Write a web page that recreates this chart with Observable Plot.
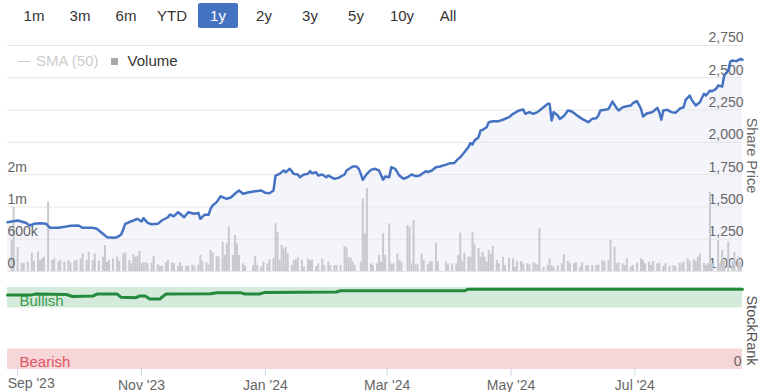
<!DOCTYPE html>
<html><head><meta charset="utf-8">
<script src="https://cdn.jsdelivr.net/npm/d3@7"></script>
<script src="https://cdn.jsdelivr.net/npm/@observablehq/plot@0.6"></script>
<style>
body{margin:0;background:#fff;font-family:"Liberation Sans",Arial,Helvetica,sans-serif;}
#chart{position:relative;width:761px;height:392px;overflow:hidden;}
#chart svg{position:absolute;left:0;top:0;background:transparent;}
.btn{position:absolute;top:3px;width:40px;height:25px;line-height:25px;font-size:15px;color:#333;text-align:center;border-radius:2px;}
.btn.on{background:#4672c2;color:#fff;}
.legend{position:absolute;top:51px;left:18px;font-size:15px;line-height:18px;white-space:nowrap;}
.legend span{display:inline-block;vertical-align:middle;}
</style>
</head><body>
<div id="chart"></div>
<script>
// ---- data ----
const rangeButtons = ["1m","3m","6m","YTD","1y","2y","3y","5y","10y","All"];
const activeButton = "1y";
const legendItems = ["SMA (50)","Volume"];
const xDomain = ["2023-08-27","2024-08-23"];
const xTicks = ["2023-09-01","2023-11-01","2024-01-01","2024-03-01","2024-05-01","2024-07-01"];
const priceTicks = [1000,1250,1500,1750,2000,2250,2500,2750];
const volumeTicks = [0,600000,1200000,1800000];
const volumeMax = 4200000;
const rankTicks = [0];
const bandLabels = ["Bullish","Bearish"];
const bandLow = [75,0];
const bandHigh = [100,25];

const priceDates = ["2023-08-27","2023-09-01","2023-09-05","2023-09-07","2023-09-09","2023-09-12","2023-09-15","2023-09-17","2023-09-21","2023-09-25","2023-09-27","2023-10-01","2023-10-03","2023-10-08","2023-10-10","2023-10-13","2023-10-15","2023-10-18","2023-10-20","2023-10-22","2023-10-24","2023-10-27","2023-10-28","2023-10-30","2023-11-01","2023-11-02","2023-11-04","2023-11-06","2023-11-09","2023-11-11","2023-11-14","2023-11-15","2023-11-17","2023-11-19","2023-11-20","2023-11-22","2023-11-24","2023-11-27","2023-11-29","2023-11-30","2023-12-02","2023-12-04","2023-12-05","2023-12-06","2023-12-08","2023-12-10","2023-12-11","2023-12-13","2023-12-15","2023-12-17","2023-12-19","2023-12-21","2023-12-24","2023-12-27","2023-12-30","2024-01-01","2024-01-03","2024-01-05","2024-01-06","2024-01-08","2024-01-10","2024-01-11","2024-01-13","2024-01-15","2024-01-17","2024-01-18","2024-01-20","2024-01-22","2024-01-23","2024-01-24","2024-01-26","2024-01-27","2024-01-29","2024-01-31","2024-02-01","2024-02-04","2024-02-06","2024-02-09","2024-02-10","2024-02-13","2024-02-15","2024-02-16","2024-02-17","2024-02-18","2024-02-20","2024-02-22","2024-02-24","2024-02-26","2024-02-28","2024-02-29","2024-03-02","2024-03-03","2024-03-05","2024-03-07","2024-03-09","2024-03-11","2024-03-13","2024-03-15","2024-03-17","2024-03-20","2024-03-21","2024-03-23","2024-03-25","2024-03-27","2024-03-30","2024-04-01","2024-04-03","2024-04-05","2024-04-06","2024-04-08","2024-04-10","2024-04-11","2024-04-12","2024-04-13","2024-04-15","2024-04-16","2024-04-17","2024-04-19","2024-04-20","2024-04-22","2024-04-25","2024-04-27","2024-04-30","2024-05-02","2024-05-05","2024-05-07","2024-05-08","2024-05-10","2024-05-12","2024-05-14","2024-05-17","2024-05-19","2024-05-20","2024-05-21","2024-05-22","2024-05-24","2024-05-25","2024-05-27","2024-05-29","2024-05-31","2024-06-03","2024-06-05","2024-06-08","2024-06-10","2024-06-12","2024-06-13","2024-06-14","2024-06-17","2024-06-18","2024-06-20","2024-06-22","2024-06-23","2024-06-25","2024-06-27","2024-06-29","2024-06-30","2024-07-02","2024-07-04","2024-07-05","2024-07-07","2024-07-09","2024-07-10","2024-07-12","2024-07-13","2024-07-14","2024-07-15","2024-07-17","2024-07-19","2024-07-21","2024-07-23","2024-07-25","2024-07-26","2024-07-28","2024-07-29","2024-07-31","2024-08-02","2024-08-04","2024-08-05","2024-08-07","2024-08-08","2024-08-10","2024-08-11","2024-08-13","2024-08-14","2024-08-16","2024-08-17","2024-08-18","2024-08-20","2024-08-22","2024-08-23"];
const priceValues = [1382,1395,1377,1356,1369,1374,1369,1338,1338,1348,1354,1356,1338,1338,1331,1292,1266,1261,1266,1287,1369,1389,1395,1408,1387,1413,1377,1366,1369,1395,1420,1441,1428,1459,1447,1420,1459,1447,1454,1408,1439,1439,1485,1511,1537,1583,1575,1563,1573,1602,1627,1602,1614,1622,1627,1609,1606,1627,1743,1756,1782,1769,1795,1756,1751,1730,1751,1756,1777,1761,1769,1743,1751,1730,1743,1718,1725,1751,1782,1813,1813,1795,1756,1710,1756,1787,1795,1782,1710,1736,1730,1807,1795,1743,1718,1730,1751,1738,1743,1777,1769,1782,1807,1813,1828,1839,1839,1873,1885,1924,1963,1994,1983,2014,2040,2092,2097,2117,2156,2164,2164,2175,2195,2221,2247,2254,2221,2234,2221,2234,2272,2298,2298,2169,2234,2208,2182,2203,2247,2239,2203,2182,2156,2182,2187,2208,2247,2254,2260,2316,2265,2247,2272,2280,2285,2303,2319,2260,2200,2226,2231,2239,2267,2234,2175,2247,2252,2234,2229,2260,2272,2329,2363,2329,2285,2311,2376,2363,2401,2396,2414,2440,2432,2518,2556,2626,2634,2629,2647,2639];

const volumeDates = ["2023-08-29","2023-08-30","2023-09-01","2023-09-03","2023-09-04","2023-09-06","2023-09-08","2023-09-09","2023-09-11","2023-09-12","2023-09-13","2023-09-14","2023-09-16","2023-09-18","2023-09-19","2023-09-21","2023-09-22","2023-09-24","2023-09-26","2023-09-27","2023-09-29","2023-09-30","2023-10-02","2023-10-03","2023-10-05","2023-10-06","2023-10-08","2023-10-09","2023-10-11","2023-10-13","2023-10-14","2023-10-15","2023-10-16","2023-10-18","2023-10-20","2023-10-21","2023-10-23","2023-10-24","2023-10-26","2023-10-27","2023-10-28","2023-10-29","2023-10-30","2023-10-31","2023-11-01","2023-11-02","2023-11-03","2023-11-04","2023-11-06","2023-11-07","2023-11-09","2023-11-10","2023-11-11","2023-11-13","2023-11-14","2023-11-16","2023-11-17","2023-11-19","2023-11-20","2023-11-21","2023-11-23","2023-11-24","2023-11-26","2023-11-27","2023-11-29","2023-11-30","2023-12-01","2023-12-03","2023-12-04","2023-12-05","2023-12-06","2023-12-08","2023-12-09","2023-12-11","2023-12-12","2023-12-13","2023-12-14","2023-12-16","2023-12-17","2023-12-18","2023-12-19","2023-12-21","2023-12-22","2023-12-26","2023-12-27","2023-12-28","2023-12-30","2023-12-31","2024-01-02","2024-01-03","2024-01-05","2024-01-06","2024-01-07","2024-01-08","2024-01-09","2024-01-10","2024-01-11","2024-01-12","2024-01-14","2024-01-15","2024-01-16","2024-01-17","2024-01-19","2024-01-20","2024-01-22","2024-01-23","2024-01-24","2024-01-26","2024-01-27","2024-01-29","2024-01-30","2024-02-01","2024-02-02","2024-02-04","2024-02-05","2024-02-07","2024-02-09","2024-02-10","2024-02-11","2024-02-12","2024-02-13","2024-02-14","2024-02-17","2024-02-18","2024-02-19","2024-02-20","2024-02-22","2024-02-23","2024-02-25","2024-02-26","2024-02-27","2024-02-28","2024-02-29","2024-03-02","2024-03-03","2024-03-04","2024-03-06","2024-03-07","2024-03-08","2024-03-11","2024-03-12","2024-03-13","2024-03-14","2024-03-15","2024-03-16","2024-03-18","2024-03-19","2024-03-21","2024-03-22","2024-03-23","2024-03-25","2024-03-26","2024-03-30","2024-03-31","2024-04-02","2024-04-04","2024-04-05","2024-04-06","2024-04-07","2024-04-08","2024-04-10","2024-04-11","2024-04-12","2024-04-13","2024-04-15","2024-04-16","2024-04-17","2024-04-18","2024-04-19","2024-04-20","2024-04-21","2024-04-22","2024-04-24","2024-04-25","2024-04-27","2024-04-28","2024-04-30","2024-05-02","2024-05-03","2024-05-04","2024-05-06","2024-05-07","2024-05-09","2024-05-10","2024-05-12","2024-05-13","2024-05-14","2024-05-15","2024-05-17","2024-05-19","2024-05-20","2024-05-21","2024-05-22","2024-05-24","2024-05-26","2024-05-27","2024-05-29","2024-05-30","2024-06-01","2024-06-02","2024-06-04","2024-06-05","2024-06-07","2024-06-08","2024-06-10","2024-06-12","2024-06-13","2024-06-15","2024-06-16","2024-06-18","2024-06-19","2024-06-21","2024-06-22","2024-06-23","2024-06-25","2024-06-26","2024-06-27","2024-06-29","2024-06-30","2024-07-02","2024-07-04","2024-07-05","2024-07-06","2024-07-08","2024-07-09","2024-07-10","2024-07-12","2024-07-13","2024-07-15","2024-07-16","2024-07-18","2024-07-20","2024-07-21","2024-07-23","2024-07-24","2024-07-25","2024-07-27","2024-07-28","2024-07-30","2024-07-31","2024-08-01","2024-08-02","2024-08-04","2024-08-05","2024-08-06","2024-08-07","2024-08-08","2024-08-11","2024-08-12","2024-08-13","2024-08-14","2024-08-16","2024-08-18","2024-08-19","2024-08-21","2024-08-22"];
const volumeValues = [576000,1190000,446000,154000,154000,173000,340000,191000,359000,204000,235000,266000,1290000,204000,235000,173000,204000,173000,204000,154000,191000,204000,235000,328000,204000,359000,204000,328000,191000,266000,483000,173000,204000,235000,266000,191000,328000,347000,204000,143000,310000,266000,284000,372000,143000,161000,161000,143000,161000,279000,124000,99000,99000,161000,204000,161000,143000,99000,161000,99000,99000,99000,118000,99000,124000,297000,186000,161000,118000,390000,347000,284000,266000,544000,297000,514000,823000,297000,669000,514000,297000,143000,99000,111000,279000,111000,80000,173000,143000,217000,235000,886000,730000,204000,483000,421000,452000,328000,111000,204000,217000,254000,204000,80000,235000,204000,217000,93000,143000,235000,111000,173000,111000,111000,111000,111000,464000,440000,254000,254000,173000,111000,173000,1350000,700000,1540000,143000,111000,143000,297000,173000,700000,297000,886000,143000,143000,328000,204000,173000,855000,823000,143000,947000,124000,124000,328000,204000,124000,180000,180000,526000,180000,173000,124000,143000,143000,297000,711000,180000,340000,266000,266000,730000,514000,421000,266000,359000,266000,173000,390000,328000,464000,204000,143000,266000,111000,248000,235000,80000,186000,186000,143000,143000,124000,161000,143000,124000,805000,80000,111000,235000,111000,80000,111000,143000,310000,186000,143000,143000,161000,80000,161000,111000,111000,111000,111000,124000,204000,186000,204000,576000,452000,143000,161000,143000,111000,235000,80000,111000,154000,235000,204000,143000,173000,111000,191000,143000,154000,93000,143000,93000,111000,93000,154000,143000,173000,235000,191000,217000,191000,266000,328000,154000,111000,143000,1470000,143000,576000,143000,390000,204000,544000,173000,359000,266000,173000];

const rankDates = ["2023-08-27","2023-09-08","2023-09-10","2023-09-25","2023-09-28","2023-10-08","2023-10-10","2023-10-20","2023-10-22","2023-10-29","2023-10-31","2023-11-03","2023-11-05","2023-11-10","2023-11-13","2023-12-05","2023-12-08","2023-12-20","2023-12-22","2023-12-29","2024-01-01","2024-02-05","2024-02-07","2024-04-08","2024-04-10","2024-08-23"];
const rankValues = [91,91,92,91.5,89,89.5,92,92,88,87.5,89.5,89.5,86,86,92,92.5,93.5,93.5,92,92,94,94.5,96,96,98,98];

// ---- build tables ----
const parse = d => new Date(d);
const priceData = priceDates.map((d,i)=>({date:parse(d), price:priceValues[i]}));
const volumeData = volumeDates.map((d,i)=>({date:parse(d), volume:volumeValues[i]}));
const rankData = rankDates.map((d,i)=>({date:parse(d), rank:rankValues[i]}));
const xTickDates = xTicks.map(parse);

const font = "'Liberation Sans', Arial, Helvetica, sans-serif";
const base = {width:761, marginLeft:7, marginRight:19,
  style:{background:"transparent", fontFamily:font, fontSize:"14px", overflow:"visible"}};
const xScale = {type:"utc", domain:xDomain.map(parse), axis:null};
const fmtVol = v => v === 0 ? "0" : v < 1e6 ? Math.round(v/1e3)+"k" : Math.round(v/1e6)+"m";
const fmtDate = d3.utcFormat("%b '%y");

const chart = document.getElementById("chart");

// range buttons
rangeButtons.forEach((b,i)=>{
  const el = document.createElement("div");
  el.className = "btn" + (b===activeButton ? " on" : "");
  el.style.left = (14 + i*46) + "px";
  el.textContent = b;
  chart.appendChild(el);
});

// price panel: area + grid + right axis
const plotA = Plot.plot({...base, height:280, marginTop:45, marginBottom:9,
  x:xScale, y:{domain:[priceTicks[0], priceTicks[priceTicks.length-1]], axis:null},
  marks:[
    Plot.areaY(priceData,{x:"date", y1:priceTicks[0], y2:"price", fill:"#f3f5fb"}),
    Plot.gridY(priceTicks,{stroke:"#e6e6e6", strokeOpacity:1}),
    Plot.axisY(priceTicks,{anchor:"right", tickSize:0, tickPadding:1, textAnchor:"end", dy:-7.5,
      fill:"#666", fontSize:14, tickFormat:d3.format(","), label:null}),
    Plot.text(["Share Price"],{frameAnchor:"right", textAnchor:"middle", dx:9, dy:-3, rotate:90, fill:"#666", fontSize:14.5})
  ]});
chart.appendChild(plotA);

// volume
const plotB = Plot.plot({...base, height:280, marginTop:45, marginBottom:9,
  x:xScale, y:{domain:[0, volumeMax], axis:null},
  marks:[
    Plot.ruleX(volumeData,{x:"date", y:"volume", stroke:"#c8c9ce", strokeWidth:2}),
    Plot.axisY(volumeTicks,{anchor:"left", tickSize:0, tickPadding:0, textAnchor:"start", dy:-7.5,
      fill:"#666", fontSize:14, tickFormat:fmtVol, label:null})
  ]});
chart.appendChild(plotB);

// price line
const plotC = Plot.plot({...base, height:280, marginTop:45, marginBottom:9,
  x:xScale, y:{domain:[priceTicks[0], priceTicks[priceTicks.length-1]], axis:null},
  marks:[
    Plot.line(priceData,{x:"date", y:"price", stroke:"#4672c2", strokeWidth:2.5, strokeLinejoin:"round"})
  ]});
chart.appendChild(plotC);

// StockRank panel + x axis
const bandFill = ["#d4eadb","#f6d6d9"];
const bandText = ["#3c9a50","#e05561"];
const plotD = Plot.plot({...base, height:392, marginTop:287, marginBottom:23,
  x:xScale, y:{domain:[0,100], axis:null},
  marks:[
    Plot.rect(bandLabels,{y1:(d,i)=>bandLow[i], y2:(d,i)=>bandHigh[i], fill:(d,i)=>bandFill[i]}),
    Plot.line(rankData,{x:"date", y:"rank", stroke:"#238a3c", strokeWidth:3}),
    Plot.text(bandLabels,{frameAnchor:"left", y:(d,i)=>(bandLow[i]+bandHigh[i])/2, dx:12, dy:3,
      textAnchor:"start", fill:(d,i)=>bandText[i], fontSize:15}),
    Plot.axisY(rankTicks,{anchor:"right", tickSize:0, tickPadding:1, textAnchor:"end", dx:-2, dy:-7.5,
      fill:"#666", fontSize:14, label:null}),
    Plot.axisX(xTickDates,{anchor:"bottom", tickSize:7, tickFormat:()=>"", stroke:"#ccd6eb", label:null}),
    Plot.axisX(xTickDates.slice(1),{anchor:"bottom", tickSize:0, tickPadding:11, tickFormat:fmtDate,
      fill:"#666", fontSize:14, label:null}),
    Plot.text(xTickDates.slice(0,1),{x:d=>d, frameAnchor:"bottom", text:d=>fmtDate(d), textAnchor:"start",
      dx:-10, dy:18, fill:"#666", fontSize:14}),
    Plot.text(["StockRank"],{frameAnchor:"right", textAnchor:"middle", dx:9, dy:2, rotate:90, fill:"#555", fontSize:14.5})
  ]});
chart.appendChild(plotD);

// legend
const lg = document.createElement("div");
lg.className = "legend";
lg.innerHTML = `<span style="width:12px;height:1px;background:#ccc;margin-right:6px"></span><span style="color:#ccc">${legendItems[0]}</span>` +
  `<span style="width:7px;height:7px;background:#a8a8ad;margin:0 10px 0 12px"></span><span style="color:#333">${legendItems[1]}</span>`;
chart.appendChild(lg);
</script>
</body></html>
